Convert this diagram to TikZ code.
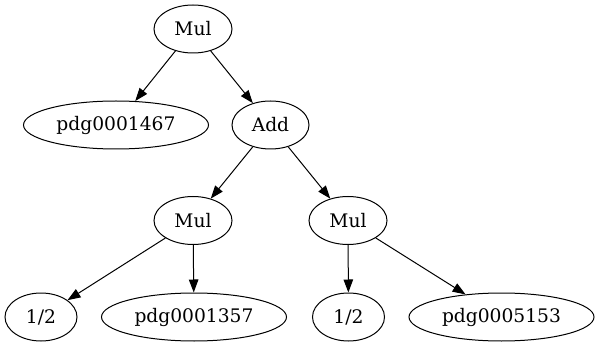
\documentclass[tikz,border=0pt]{standalone}
\usepackage{fontspec}
\setmainfont{DejaVu Serif}
\usepackage{tikz}
\usetikzlibrary{shapes.geometric,arrows.meta}

\begin{document}
\begin{tikzpicture}[x=1pt,y=-1pt,
  tnode/.style={ellipse, draw, line width=1pt, inner sep=0pt,
    minimum height=48pt, font=\fontsize{18.67}{22}\selectfont},
  opnode/.style={tnode, minimum width=78pt},
  halfnode/.style={tnode, minimum width=72pt},
  varnode/.style={tnode, minimum width=185pt},
  edge/.style={line width=1pt, -{Triangle[length=13pt,width=9.5pt]}}]
\useasboundingbox (0,0) rectangle (599,347);
\node[opnode] (mtop) at (193,29) {Mul};
\node[varnode] (v1467) at (116,125) {pdg0001467};
\node[opnode, minimum width=77pt] (add) at (270.5,125) {Add};
\node[opnode] (mleft) at (193,220.5) {Mul};
\node[opnode] (mright) at (348,220.5) {Mul};
\node[halfnode] (hleft) at (41,317) {1/2};
\node[varnode] (v1357) at (194,317) {pdg0001357};
\node[halfnode] (hright) at (348.5,317) {1/2};
\node[varnode] (v5153) at (501.5,317) {pdg0005153};
\draw[edge] (mtop) -- (v1467);
\draw[edge] (mtop) -- (add);
\draw[edge] (add) -- (mleft);
\draw[edge] (add) -- (mright);
\draw[edge] (mleft) -- (hleft);
\draw[edge] (mleft) -- (v1357);
\draw[edge] (mright) -- (hright);
\draw[edge] (mright) -- (v5153);
\end{tikzpicture}
\end{document}
